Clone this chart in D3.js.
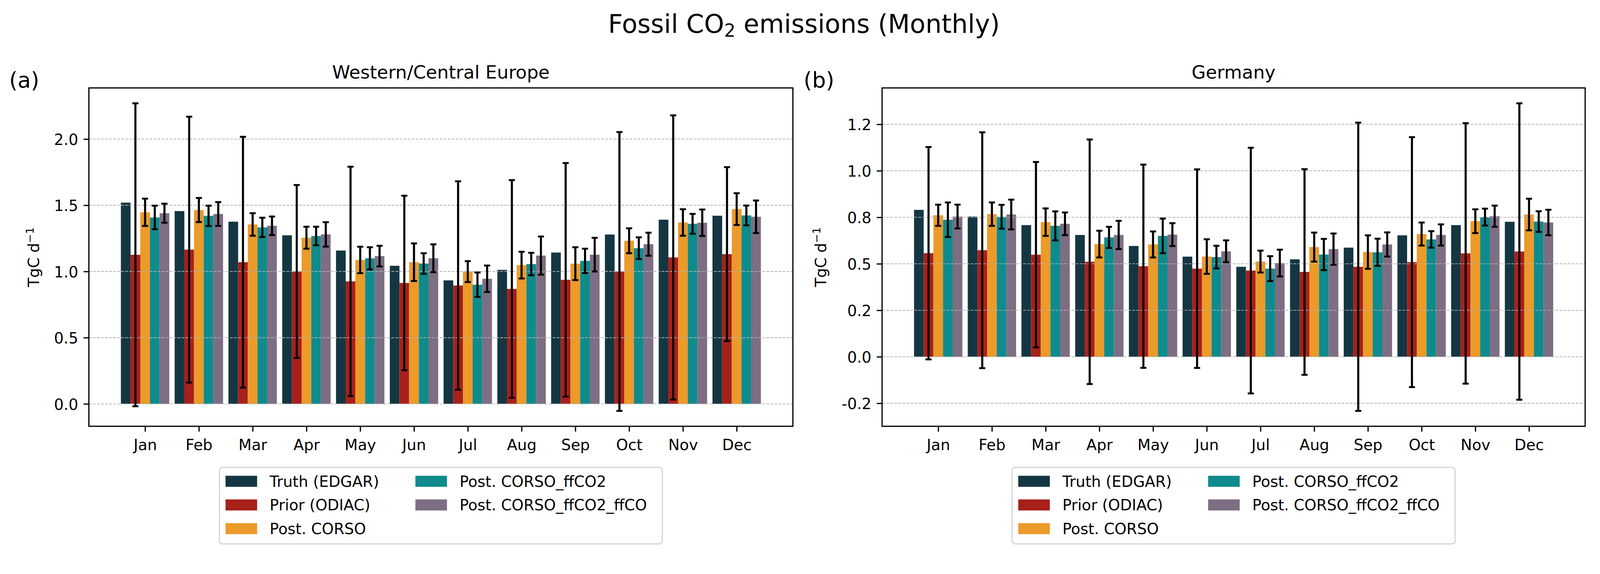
<!DOCTYPE html>
<html><head><meta charset="utf-8">
<script src="https://cdn.jsdelivr.net/npm/d3@7"></script>
<style>html,body{margin:0;padding:0;width:100%;height:100%;overflow:hidden;background:#fff} svg{display:block;width:100vw;height:100vh} text{font-family:"DejaVu Sans",sans-serif}</style>
</head><body><svg id="c" viewBox="0 0 4205 1469" preserveAspectRatio="xMidYMin meet"></svg>
<script>
// ---------- data ----------
const months = ["Jan","Feb","Mar","Apr","May","Jun","Jul","Aug","Sep","Oct","Nov","Dec"];
const seriesNames = ["Truth (EDGAR)","Prior (ODIAC)","Post. CORSO","Post. CORSO_ffCO2","Post. CORSO_ffCO2_ffCO"];
const seriesColors = ["#143642","#A8201A","#EC9A29","#0F8B8D","#7D6E83"];

// Panel (a): Western/Central Europe
const truthA    = [1.520,1.456,1.376,1.273,1.158,1.043,0.933,1.012,1.143,1.279,1.391,1.421];
const priorA    = [1.126,1.165,1.070,1.000,0.925,0.913,0.894,0.868,0.937,1.000,1.106,1.131];
const priorErrA = [1.144,1.004,0.947,0.653,0.866,0.659,0.787,0.822,0.882,1.053,1.073,0.657];
const corsoA    = [1.447,1.464,1.355,1.255,1.087,1.070,0.999,1.048,1.059,1.232,1.370,1.471];
const corsoErrA = [0.103,0.091,0.085,0.083,0.100,0.142,0.079,0.101,0.124,0.094,0.100,0.120];
const ffco2A    = [1.408,1.420,1.333,1.268,1.099,1.060,0.900,1.056,1.080,1.176,1.360,1.423];
const ffco2ErrA = [0.089,0.077,0.073,0.070,0.084,0.078,0.092,0.085,0.092,0.082,0.075,0.075];
const ffcoA     = [1.440,1.434,1.345,1.280,1.116,1.100,0.945,1.120,1.127,1.206,1.368,1.413];
const ffcoErrA  = [0.072,0.090,0.070,0.092,0.078,0.105,0.100,0.144,0.127,0.087,0.100,0.123];

// Panel (b): Germany
const truthB    = [0.790,0.754,0.708,0.655,0.596,0.5385,0.484,0.524,0.587,0.653,0.708,0.726];
const priorB    = [0.557,0.573,0.549,0.511,0.487,0.474,0.4635,0.456,0.484,0.509,0.556,0.566];
const priorErrB = [0.571,0.634,0.4985,0.6575,0.5465,0.534,0.6605,0.553,0.775,0.672,0.7005,0.797];
const corsoB    = [0.761,0.767,0.724,0.606,0.604,0.539,0.512,0.590,0.563,0.660,0.729,0.765];
const corsoErrB = [0.057,0.063,0.074,0.072,0.070,0.093,0.059,0.078,0.090,0.062,0.064,0.085];
const ffco2B    = [0.737,0.753,0.704,0.642,0.650,0.536,0.474,0.550,0.562,0.631,0.751,0.727];
const ffco2ErrB = [0.093,0.064,0.078,0.057,0.093,0.061,0.067,0.084,0.073,0.0445,0.0455,0.0555];
const ffcoB     = [0.754,0.765,0.715,0.655,0.657,0.567,0.504,0.579,0.604,0.655,0.756,0.722];
const ffcoErrB  = [0.064,0.080,0.061,0.076,0.0615,0.059,0.072,0.084,0.065,0.057,0.057,0.0685];

const yTicksA = [0,0.5,1.0,1.5,2.0];
const yTickLabelsA = ["0.0","0.5","1.0","1.5","2.0"];
const yTicksB = [-0.25,0,0.25,0.5,0.75,1.0,1.25];
const yTickLabelsB = ["-0.2","0.0","0.2","0.5","0.8","1.0","1.2"];

const panels = [
  {label:"(a)", title:"Western/Central Europe", left:233.6, right:2083.8, labelX:24, ylabX:103,
   values:[truthA,priorA,corsoA,ffco2A,ffcoA], errs:[null,priorErrA,corsoErrA,ffco2ErrA,ffcoErrA],
   ticks:yTicksA, tickLabels:yTickLabelsA},
  {label:"(b)", title:"Germany", left:2318.2, right:4166, labelX:2112, ylabX:2171,
   values:[truthB,priorB,corsoB,ffco2B,ffcoB], errs:[null,priorErrB,corsoErrB,ffco2ErrB,ffcoErrB],
   ticks:yTicksB, tickLabels:yTickLabelsB}
];

// ---------- drawing ----------
const svg = d3.select("#c");
const axTop = 231, axBottom = 1120;
const barW = 0.18;
const FS = 40;

svg.append("rect").attr("width",4205).attr("height",1469).attr("fill","#fff");

svg.append("text").attr("x",2113).attr("y",86).attr("text-anchor","middle")
  .attr("font-size",67)
  .call(t=>{ t.append("tspan").text("Fossil CO");
             t.append("tspan").attr("font-size",47).attr("dy",10).text("2");
             t.append("tspan").attr("dy",-10).text(" emissions (Monthly)"); });

panels.forEach((p,pi)=>{
  const g = svg.append("g");
  const xMinData = -2.5*barW, xMaxData = months.length-1+2.5*barW;
  const xm = 0.05*(xMaxData-xMinData);
  const x = d3.scaleLinear().domain([xMinData-xm, xMaxData+xm]).range([p.left,p.right]);
  let lo = 0, hi = 0;
  p.values.forEach((vals,si)=>vals.forEach((v,i)=>{
    const e = p.errs[si] ? p.errs[si][i] : 0;
    lo = Math.min(lo, v-e); hi = Math.max(hi, v+e);
  }));
  const ym = 0.05*(hi-lo);
  const y = d3.scaleLinear().domain([lo-ym, hi+ym]).range([axBottom, axTop]);

  // bars
  p.values.forEach((vals,si)=>{
    g.append("g").selectAll("rect").data(vals).join("rect")
      .attr("x",(d,i)=>x(i+(si-2)*barW-barW/2))
      .attr("width",(d,i)=>x(i+(si-2)*barW+barW/2)-x(i+(si-2)*barW-barW/2))
      .attr("y",d=>Math.min(y(d),y(0)))
      .attr("height",d=>Math.abs(y(0)-y(d)))
      .attr("fill",seriesColors[si]);
  });

  // grid (above bars, below errorbars)
  g.append("g").selectAll("line").data(p.ticks).join("line")
    .attr("x1",p.left).attr("x2",p.right)
    .attr("y1",d=>y(d)).attr("y2",d=>y(d))
    .attr("stroke","#b0b0b0").attr("stroke-width",2).attr("stroke-dasharray","7.4,3.2");

  // errorbars
  p.values.forEach((vals,si)=>{
    const errs = p.errs[si]; if(!errs) return;
    const eg = g.append("g").attr("stroke","#000");
    vals.forEach((v,i)=>{
      const cx = x(i+(si-2)*barW), e = errs[i];
      eg.append("line").attr("x1",cx).attr("x2",cx).attr("y1",y(v-e)).attr("y2",y(v+e)).attr("stroke-width",5.5);
      [v-e,v+e].forEach(t=>eg.append("line").attr("x1",cx-8).attr("x2",cx+8).attr("y1",y(t)).attr("y2",y(t)).attr("stroke-width",5));
    });
  });

  // axes
  const ax = g.append("g").attr("transform",`translate(${p.left},0)`)
    .call(d3.axisLeft(y).tickValues(p.ticks).tickFormat((d,i)=>p.tickLabels[i]).tickSize(14).tickPadding(14));
  ax.select(".domain").remove();
  ax.selectAll(".tick line").attr("stroke-width",3.2);
  ax.selectAll(".tick text").attr("font-size",FS).attr("font-family","DejaVu Sans").attr("dy","0.37em").attr("fill","#000");

  const bx = g.append("g").attr("transform",`translate(0,${axBottom})`)
    .call(d3.axisBottom(x).tickValues(d3.range(months.length)).tickFormat((d,i)=>months[i]).tickSize(14).tickPadding(14));
  bx.select(".domain").remove();
  bx.selectAll(".tick line").attr("stroke-width",3.2);
  bx.selectAll(".tick text").attr("font-size",FS).attr("font-family","DejaVu Sans").attr("dy","0.875em").attr("fill","#000");

  // spines
  g.append("rect").attr("x",p.left).attr("y",axTop).attr("width",p.right-p.left).attr("height",axBottom-axTop)
    .attr("fill","none").attr("stroke","#000").attr("stroke-width",3.2);

  // titles
  const cx = (p.left+p.right)/2;
  g.append("text").attr("x",cx).attr("y",206).attr("text-anchor","middle").attr("font-size",48).text(p.title);
  g.append("text").attr("x",p.labelX).attr("y",230).attr("font-size",57).text(p.label);

  // y label
  g.append("text").attr("transform",`translate(${p.ylabX},${(axTop+axBottom)/2}) rotate(-90)`)
    .attr("text-anchor","middle").attr("font-size",FS)
    .call(t=>{ t.append("tspan").text("TgC d");
               t.append("tspan").attr("font-size",28).attr("dy",-15).text("\u22121"); });

  // legend
  const lx = cx-582, ly = 1228;
  const lg = g.append("g");
  lg.append("rect").attr("x",lx).attr("y",ly).attr("width",1164).attr("height",201).attr("rx",8)
    .attr("fill","#fff").attr("stroke","#d6d6d6").attr("stroke-width",3.2);
  seriesNames.forEach((nm,si)=>{
    const c = si<3?0:1, r = si<3?si:si-3;
    const px = lx+16+c*499, py = 1250+r*62.2;
    lg.append("rect").attr("x",px).attr("y",py).attr("width",83).attr("height",29).attr("fill",seriesColors[si]);
    lg.append("text").attr("x",px+116).attr("y",py+29).attr("font-size",FS).text(nm);
  });
});
</script></body></html>
